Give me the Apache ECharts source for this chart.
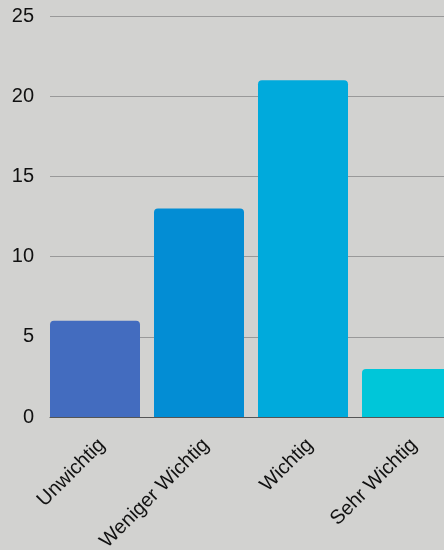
<!DOCTYPE html>
<html><head><meta charset="utf-8">
<script src="https://cdn.jsdelivr.net/npm/echarts@6/dist/echarts.min.js"></script>
<style>html,body{margin:0;padding:0;background:#d2d2d0}#c{width:444px;height:550px}</style>
</head><body><div id="c"></div>
<script>
const categories = ['Unwichtig', 'Weniger Wichtig', 'Wichtig', 'Sehr Wichtig'];
const values = [6, 13, 21, 3];
const barColors = ['#436cbf', '#038dd4', '#00aadc', '#00c6d9'];
const yTicks = [0, 5, 10, 15, 20, 25];

const chart = echarts.init(document.getElementById('c'));
chart.setOption({
  backgroundColor: '#d2d2d0',
  animation: false,
  grid: { left: 50, width: 416, top: 16, bottom: 133, outerBoundsMode: 'none' },
  xAxis: {
    type: 'category', data: categories,
    axisLine: { lineStyle: { color: '#555', width: 1 } },
    axisTick: { show: false },
    axisLabel: { rotate: 45, margin: 25, color: '#111', fontSize: 20, fontFamily: 'Liberation Sans, Arial, sans-serif', interval: 0 }
  },
  yAxis: {
    type: 'value', min: yTicks[0], max: yTicks[yTicks.length - 1], interval: 5,
    axisLine: { show: false }, axisTick: { show: false },
    splitLine: { lineStyle: { color: '#999', width: 1 } },
    axisLabel: { margin: 16, color: '#111', fontSize: 20, fontFamily: 'Liberation Sans, Arial, sans-serif' }
  },
  series: [
    {
      type: 'bar', barWidth: 90, barGap: '0%',
      data: values.map((v, i) => ({ value: v, itemStyle: { color: barColors[i], borderRadius: [4, 4, 0, 0] } }))
    },
    {
      type: 'bar', barWidth: 14, data: values.map(() => null), silent: true
    }
  ]
});
</script></body></html>
